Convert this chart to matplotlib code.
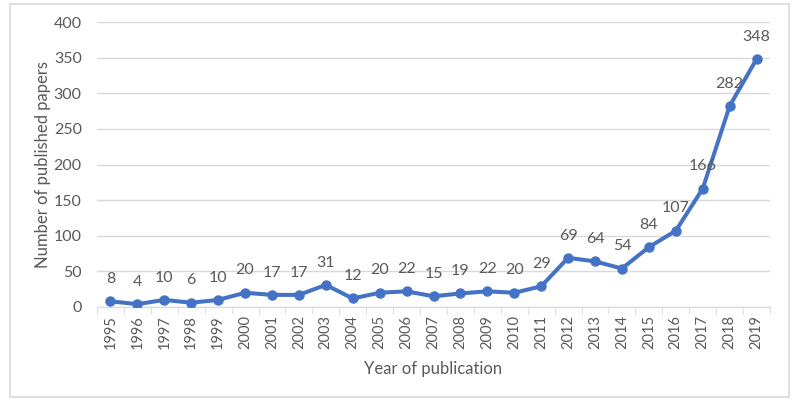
import matplotlib.pyplot as plt
import matplotlib.patches as patches
import numpy as np

years = [str(y) for y in range(1995, 2020)]
papers = [8, 4, 10, 6, 10, 20, 17, 17, 31, 12, 20, 22, 15, 19, 22, 20, 29,
          69, 64, 54, 84, 107, 166, 282, 348]

TEXT = "#595959"
GRID = "#D9D9D9"
BLUE = "#4472C4"

plt.rcParams['font.family'] = ['Lato', 'DejaVu Sans']

fig = plt.figure(figsize=(8, 4.01), dpi=100)
ax = fig.add_axes([97 / 800, 1 - 307 / 401, 673 / 800, 285 / 401])

# light border round the whole chart
fig.patches.append(patches.Rectangle((10 / 800, 4 / 401), 779 / 800, 393 / 401,
                                     transform=fig.transFigure, fill=False,
                                     edgecolor=GRID, linewidth=1.2))

x = np.arange(len(years))
ax.plot(x, papers, color=BLUE, linewidth=2.9, marker='o', markersize=6.5,
        solid_joinstyle='round', zorder=3)

for xi, v in zip(x, papers):
    ax.annotate(str(v), (xi, v), xytext=(0, 11), textcoords='offset points',
                ha='center', va='bottom', fontsize=11.5, color=TEXT)

ax.set_xlim(-0.5, len(years) - 0.5)
ax.set_ylim(0, 400)
ax.set_yticks(range(0, 401, 50))
ax.grid(axis='y', color=GRID, linewidth=1)
ax.set_axisbelow(True)

ax.set_xticks(x)
ax.set_xticklabels(years, rotation=90, fontsize=10.5, color=TEXT)
ax.set_xticks(np.arange(-0.5, len(years)), minor=True)
ax.tick_params(axis='x', which='major', length=0, pad=6)
ax.tick_params(axis='x', which='minor', length=5, color=GRID, direction='out')
ax.tick_params(axis='y', length=0, labelsize=11.5, labelcolor=TEXT, pad=11)

for side in ['top', 'right', 'left']:
    ax.spines[side].set_visible(False)
ax.spines['bottom'].set_color(GRID)

ax.set_xlabel('Year of publication', fontsize=12, color=TEXT, labelpad=8)
ax.set_ylabel('Number of published papers', fontsize=12, color=TEXT)
ax.yaxis.set_label_coords(-0.069, 0.5)

fig.savefig('out.png', dpi=100)
